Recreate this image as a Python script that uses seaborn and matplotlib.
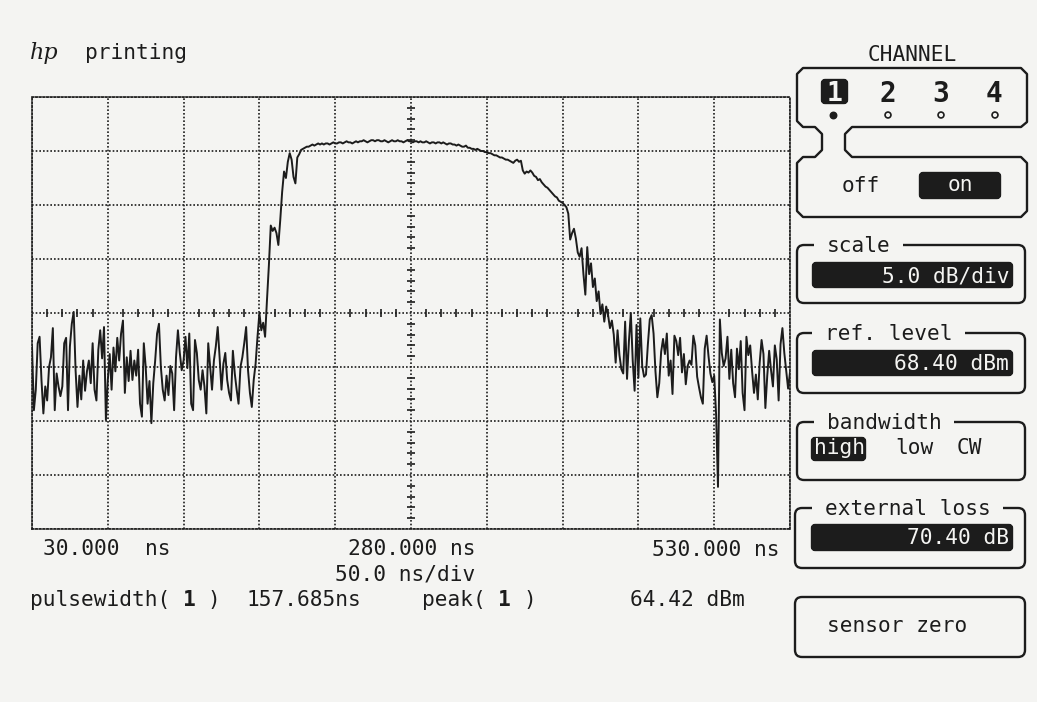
import numpy as np
import matplotlib
matplotlib.use("Agg")
import matplotlib.pyplot as plt
import seaborn as sns
from matplotlib.patches import FancyBboxPatch, Polygon

# measured trace, dBm, one sample every 1.25 ns from 30 ns to 530 ns
noise_left = [
    45.3, 39.4, 41.3, 45.6, 46.2, 42.2, 39.1, 41.6, 40.3, 43.4,
    44.3, 47.0, 39.4, 42.8, 41.6, 40.7, 41.6, 45.6, 46.1, 39.4,
    45.3, 47.4, 48.5, 43.1, 39.7, 42.6, 40.4, 44.0, 41.2, 43.0,
    44.0, 41.9, 45.6, 41.3, 40.3, 45.0, 46.8, 44.2, 47.1, 38.5,
    42.2, 44.6, 41.3, 45.2, 43.0, 46.1, 44.0, 46.5, 47.7, 41.0,
    44.3, 42.1, 44.9, 42.2, 44.0, 42.6, 45.0, 40.0, 38.8, 45.6,
    43.4, 40.0, 42.1, 38.2, 41.9, 44.0, 46.5, 47.4, 43.4, 41.3,
    40.3, 42.6, 40.8, 43.5, 42.8, 39.4, 44.3, 46.8, 44.7, 43.1,
    44.0, 46.2, 43.3, 46.5, 40.0, 39.4, 45.9, 44.7, 42.2, 41.3,
    43.1, 41.6, 39.1, 45.6, 43.4, 41.3, 44.0, 45.3, 47.1, 44.3,
    41.3, 43.7, 44.7, 42.2, 41.0, 40.3, 44.9, 42.8, 41.3, 40.0,
    43.4, 44.3, 45.6, 47.1, 43.1, 41.0, 39.7, 42.2, 43.7, 46.2,
]
rise = [
    48.4, 46.8, 47.5, 46.2, 49.6, 52.8, 56.5, 56.0, 56.3, 55.8,
    54.7, 57.0, 59.6, 61.5, 60.9, 62.4, 63.2, 62.6, 61.0, 60.4,
    62.8, 63.1, 63.5,
]
plateau = [
    63.6, 63.7, 63.8, 63.8, 63.9, 64.0, 63.9, 64.0, 64.1, 64.0,
    64.1, 64.0, 64.1, 64.1, 64.0, 64.1, 64.2, 64.1, 64.1, 64.2,
    64.2, 64.1, 64.2, 64.3, 64.2, 64.2, 64.1, 64.2, 64.3, 64.2,
    64.3, 64.3, 64.4, 64.3, 64.2, 64.3, 64.4, 64.4, 64.3, 64.4,
    64.4, 64.3, 64.3, 64.4, 64.3, 64.2, 64.3, 64.4, 64.3, 64.3,
    64.4, 64.3, 64.3, 64.2, 64.3, 64.4, 64.3, 64.3, 64.2, 64.3,
    64.3, 64.2, 64.3, 64.2, 64.2, 64.3, 64.2, 64.1, 64.2, 64.2,
    64.1, 64.2, 64.2, 64.1, 64.2, 64.1, 64.0, 64.1, 64.1, 64.0,
    64.0, 63.9, 64.0, 63.9, 63.8, 63.8, 63.9, 63.7, 63.7, 63.6,
    63.6, 63.5, 63.6, 63.5, 63.4, 63.4, 63.3, 63.3, 63.2, 63.2,
    63.1, 63.0, 63.0, 62.9, 62.8, 62.8, 62.7, 62.6, 62.6, 62.5,
    62.4, 62.3, 62.5, 62.6, 62.4, 62.5, 61.6, 61.3, 61.5, 61.4,
    61.6, 61.4, 61.1, 61.0, 60.7, 60.8, 60.5, 60.3, 60.1, 60.0,
    59.8, 59.6, 59.4, 59.2, 59.1, 58.8, 58.7, 58.6,
]
fall = [
    58.4, 58.2, 57.6, 55.2, 55.8, 56.2, 55.3, 54.0, 53.6, 54.4,
    52.0, 50.1, 54.5, 52.0, 53.0, 50.8, 51.6, 49.5, 50.4, 48.3,
    49.2, 47.6, 49.0, 48.2, 47.0, 47.7, 46.4, 43.8,
]
noise_right = [
    46.8, 44.5, 43.2, 42.8, 47.6, 42.3, 45.8, 48.4, 44.0, 41.2,
    47.3, 42.4, 47.9, 43.5, 42.5, 42.7, 45.5, 47.8, 48.2, 46.5,
    43.0, 40.6, 41.9, 44.8, 46.0, 44.6, 46.5, 42.6, 44.0, 40.9,
    46.3, 45.8, 44.5, 46.1, 42.9, 44.6, 41.8, 43.5, 44.0, 43.6,
    46.3, 45.4, 42.5, 41.5, 40.6, 40.0, 45.1, 46.3, 44.4, 42.8,
    42.0, 42.6, 39.0, 32.3, 47.8, 44.7, 43.5, 44.2, 46.2, 42.3,
    45.0, 41.9, 40.6, 45.1, 43.2, 45.8, 41.0, 39.4, 46.2, 44.5,
    45.4, 43.0, 41.0, 42.7, 40.4, 43.8, 45.9, 44.6, 39.6, 42.6,
    44.9, 43.1, 41.6, 45.4, 44.1, 40.3, 45.5, 47.0, 44.7, 43.0,
    41.4, 42.9,
]

t_start, t_stop = 30.0, 530.0
ns_per_div = 50.0
ref_level = 68.40
db_per_div = 5.0

x_labels = ["30.000  ns", "280.000 ns", "530.000 ns"]
time_per_div = "50.0 ns/div"
pulsewidth = "157.685ns"
peak = "64.42 dBm"
scale_txt = "5.0 dB/div"
ref_txt = "68.40 dBm"
loss_txt = "70.40 dB"

trace = noise_left + rise + plateau + fall + noise_right
time_ns = np.linspace(t_start, t_stop, len(trace))

sns.set_style("white")
plt.rcParams["font.family"] = ["DejaVu Sans Mono", "DejaVu Sans"]

paper = "#f4f4f2"
ink = "#1c1c1c"
W, H = 1037, 702
fs = 15.2
pitch = 0.6021 * fs * 100 / 72

fig = plt.figure(figsize=(W / 100, H / 100), dpi=100, facecolor=paper)

# ---- trace window
ax = fig.add_axes([32 / W, 1 - 529 / H, 758 / W, 432 / H])
ax.set_facecolor(paper)
sns.lineplot(x=time_ns, y=trace, ax=ax, color=ink, lw=1.4,
             estimator=None, sort=False)
ax.set_xlim(t_start, t_stop)
ax.set_ylim(ref_level - 8 * db_per_div, ref_level)
ax.set_xticks(np.arange(t_start, t_stop + 1, ns_per_div))
ax.set_yticks(ref_level - db_per_div * np.arange(9))
ax.tick_params(length=0, labelbottom=False, labelleft=False)
ax.set_xlabel("")
ax.set_ylabel("")
dots = (0, (1, 1.2))
ax.grid(True, color=ink, ls=dots, lw=1.2)
for s in ax.spines.values():
    s.set_linestyle(dots)
    s.set_color(ink)
    s.set_linewidth(1.2)

# small marks on the centre cross
mid_t = (t_start + t_stop) / 2
mid_db = ref_level - 4 * db_per_div
minor_t = [v for v in np.arange(t_start, t_stop, ns_per_div / 5) if (v - t_start) % ns_per_div]
ax.plot(minor_t, [mid_db] * len(minor_t), ls="none", marker="|", ms=6, mew=1.2, color=ink)
minor_db = [ref_level - k for k in range(41) if k % 5]
ax.plot([mid_t] * len(minor_db), minor_db, ls="none", marker="_", ms=6, mew=1.2, color=ink)

# ---- everything else, in pixel coordinates
ov = fig.add_axes([0, 0, 1, 1], zorder=-1)
ov.set_xlim(0, W)
ov.set_ylim(H, 0)
ov.axis("off")


def txt(x, y, s, **kw):
    kw.setdefault("fontsize", fs)
    kw.setdefault("color", ink)
    kw.setdefault("zorder", 4)
    ov.text(x, y, s, va="baseline", **kw)


def box(x0, y0, x1, y1, r=7, fill=None, z=1):
    ov.add_patch(FancyBboxPatch((x0, y0), x1 - x0, y1 - y0,
                                boxstyle=f"round,pad=0,rounding_size={r}",
                                fc=fill if fill else "none",
                                ec=fill if fill else ink, lw=1.7, zorder=z))


def label(x, y, s):
    ov.text(x, y, s, va="baseline", fontsize=fs, color=ink, zorder=2,
            bbox=dict(boxstyle="square,pad=0.6", fc=paper, ec="none"))


# header
txt(30, 59, "hp", fontsize=16, family="DejaVu Serif", style="italic")
txt(85, 59, "printing")

# time axis and readings
txt(43, 555, x_labels[0])
txt(348, 555, x_labels[1])
txt(652, 556, x_labels[2])
txt(335, 581, time_per_div)
txt(30, 606, "pulsewidth(")
txt(30 + 12 * pitch, 606, "1", weight="bold")
txt(30 + 14 * pitch, 606, ")")
txt(30 + 17 * pitch, 606, pulsewidth)
txt(422, 606, "peak(")
txt(422 + 6 * pitch, 606, "1", weight="bold")
txt(422 + 8 * pitch, 606, ")")
txt(630, 606, peak)

# channel selector
txt(912, 61, "CHANNEL", ha="center")
beam = [(803, 68), (1021, 68), (1027, 74), (1027, 122), (1021, 127), (852, 127),
        (845, 134), (845, 150), (852, 157), (1021, 157), (1027, 163), (1027, 211),
        (1021, 217), (803, 217), (797, 211), (797, 163), (803, 157), (815, 157),
        (822, 150), (822, 134), (815, 127), (803, 127), (797, 121), (797, 74)]
ov.add_patch(Polygon(beam, closed=True, fc="none", ec=ink, lw=1.7, joinstyle="round"))
box(822, 80, 847, 103, r=3, fill=ink, z=3)
txt(834.5, 101, "1", ha="center", fontsize=19, weight="bold", color=paper)
for cx, ch in zip([888, 941, 994], ["2", "3", "4"]):
    txt(cx, 102, ch, ha="center", fontsize=20, weight="bold")
ov.scatter([833], [115], s=22, color=ink, zorder=4)
ov.scatter([888, 941, 995], [115] * 3, s=18, facecolors="none", edgecolors=ink, lw=1.2, zorder=4)
txt(842, 192, "off")
box(920, 173, 1000, 198, r=3, fill=ink, z=3)
txt(960, 191, "on", ha="center", color=paper)

# scale
box(797, 245, 1025, 303)
label(827, 252, "scale")
box(813, 263, 1012, 287, r=3, fill=ink, z=3)
txt(1009, 282, scale_txt, ha="right", color=paper)

# ref level
box(797, 333, 1025, 393)
label(825, 340, "ref. level")
box(813, 351, 1012, 375, r=3, fill=ink, z=3)
txt(1009, 370, ref_txt, ha="right", color=paper)

# bandwidth
box(797, 422, 1025, 480)
label(827, 429, "bandwidth")
box(812, 438, 865, 460, r=3, fill=ink, z=3)
txt(814, 454, "high", color=paper)
txt(895, 454, "low")
txt(957, 454, "CW")

# external loss
box(795, 508, 1025, 568)
label(825, 515, "external loss")
box(812, 525, 1012, 550, r=3, fill=ink, z=3)
txt(1009, 544, loss_txt, ha="right", color=paper)

# sensor zero
box(795, 597, 1025, 657)
txt(827, 632, "sensor zero")

fig.savefig("out.png", dpi=100, facecolor=paper)
